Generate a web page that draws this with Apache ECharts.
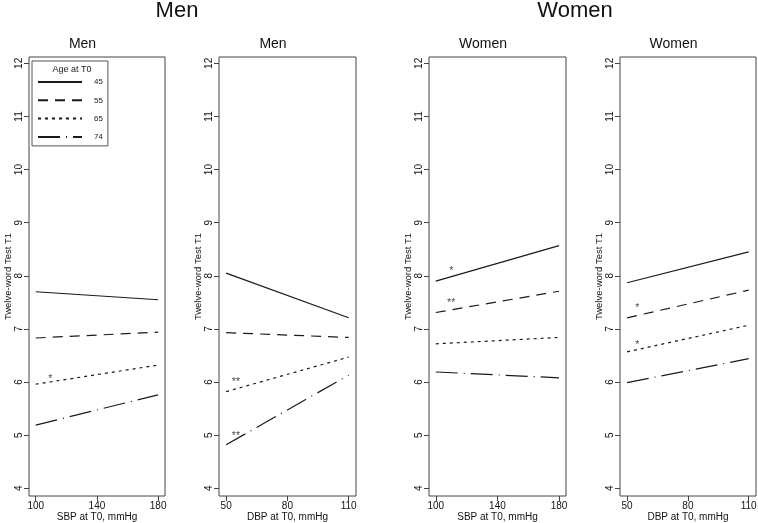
<!DOCTYPE html>
<html>
<head>
<meta charset="utf-8">
<script src="https://cdn.jsdelivr.net/npm/echarts@6.0.0/dist/echarts.min.js"></script>
<style>
  body { margin: 0; background: #fff; }
  #chart { width: 758px; height: 523px; }
</style>
</head>
<body>
<div id="chart"></div>
<script>
// age groups at T0
var ages = ['45', '55', '65', '74'];
var sbpRange = [100, 180];
var dbpRange = [50, 110];
var sbpTicks = [100, 140, 180];
var dbpTicks = [50, 80, 110];
var yTicks = [4, 5, 6, 7, 8, 9, 10, 11, 12];

// predicted score at low / high end of the pressure range, one value per age group
var menSbpStart = [7.70, 6.83, 5.96, 5.19];
var menSbpEnd = [7.55, 6.94, 6.32, 5.76];
var menDbpStart = [8.05, 6.93, 5.82, 4.82];
var menDbpEnd = [7.21, 6.84, 6.47, 6.13];
var womenSbpStart = [7.90, 7.31, 6.72, 6.19];
var womenSbpEnd = [8.57, 7.71, 6.84, 6.08];
var womenDbpStart = [7.87, 7.21, 6.57, 5.99];
var womenDbpEnd = [8.45, 7.73, 7.07, 6.44];

// significance marks [x, y, text]
var menSbpStars = [[109.5, 6.05, '*']];
var menDbpStars = [[54.8, 5.99, '**'], [54.8, 4.99, '**']];
var womenSbpStars = [[110, 8.09, '*'], [110, 7.49, '**']];
var womenDbpStars = [[55, 7.39, '*'], [55, 6.69, '*']];

var dashes = ['solid', [10, 7], [3, 4], [22, 6, 1, 6]];
var ink = '#1a1a1a';
var frame = '#444';
var font = 'Liberation Sans, Arial, Helvetica, sans-serif';

var panels = [
    {title: 'Men', xName: 'SBP at T0, mmHg', range: sbpRange, ticks: sbpTicks, min: 95.6, max: 184.5,
     start: menSbpStart, end: menSbpEnd, stars: menSbpStars, left: 29, width: 136, tx: 82.5},
    {title: 'Men', xName: 'DBP at T0, mmHg', range: dbpRange, ticks: dbpTicks, min: 46.5, max: 113.6,
     start: menDbpStart, end: menDbpEnd, stars: menDbpStars, left: 219, width: 137, tx: 273},
    {title: 'Women', xName: 'SBP at T0, mmHg', range: sbpRange, ticks: sbpTicks, min: 95.6, max: 184.5,
     start: womenSbpStart, end: womenSbpEnd, stars: womenSbpStars, left: 429, width: 137, tx: 483},
    {title: 'Women', xName: 'DBP at T0, mmHg', range: dbpRange, ticks: dbpTicks, min: 46.5, max: 113.6,
     start: womenDbpStart, end: womenDbpEnd, stars: womenDbpStars, left: 620, width: 136, tx: 673.5}
];

var grids = [], xAxes = [], yAxes = [], series = [];
var titles = [
    {text: 'Men', left: 177, top: 0, textAlign: 'center', padding: 0,
     textStyle: {fontFamily: font, fontSize: 22, fontWeight: 'normal', color: '#111'}},
    {text: 'Women', left: 575, top: 0, textAlign: 'center', padding: 0,
     textStyle: {fontFamily: font, fontSize: 22, fontWeight: 'normal', color: '#111'}},
    {text: 'Age at T0', left: 72, top: 65, textAlign: 'center', padding: 0,
     textStyle: {fontFamily: font, fontSize: 9, fontWeight: 'normal', color: '#222'}}
];

panels.forEach(function (p, i) {
    grids.push({left: p.left, top: 57, width: p.width, height: 439, show: true,
        outerBoundsMode: 'none', containLabel: false,
        borderColor: frame, borderWidth: 1, backgroundColor: 'transparent'});
    titles.push({text: p.title, left: p.tx, top: 37, textAlign: 'center', padding: 0,
        textStyle: {fontFamily: font, fontSize: 14, fontWeight: 'normal', color: '#111'}});
    xAxes.push({
        type: 'value', gridIndex: i, min: p.min, max: p.max,
        axisLine: {show: false}, splitLine: {show: false},
        axisTick: {show: true, length: 5, customValues: p.ticks, lineStyle: {color: frame}},
        axisLabel: {customValues: p.ticks, fontSize: 10, margin: 5, color: '#111', fontFamily: font},
        name: p.xName, nameLocation: 'middle', nameGap: 16, nameMoveOverlap: false,
        nameTextStyle: {fontSize: 10, color: '#111', fontFamily: font}
    });
    yAxes.push({
        type: 'value', gridIndex: i, min: 3.855, max: 12.12,
        axisLine: {show: false}, splitLine: {show: false},
        axisTick: {show: true, length: 5, customValues: yTicks, lineStyle: {color: frame}},
        axisLabel: {customValues: yTicks, rotate: 90, fontSize: 10, margin: 5, color: '#111', fontFamily: font},
        name: 'Twelve-word Test T1', nameLocation: 'middle', nameGap: 16, nameMoveOverlap: false,
        nameTextStyle: {fontSize: 9.5, color: '#111', fontFamily: font}
    });
    ages.forEach(function (age, k) {
        series.push({
            name: age, type: 'line', xAxisIndex: i, yAxisIndex: i,
            data: [[p.range[0], p.start[k]], [p.range[1], p.end[k]]],
            symbol: 'none', silent: true, animation: false,
            itemStyle: {color: ink},
            lineStyle: {color: ink, width: 1.2, type: dashes[k]}
        });
    });
    series.push({
        type: 'scatter', xAxisIndex: i, yAxisIndex: i, data: p.stars,
        symbolSize: 1, itemStyle: {color: 'transparent'}, animation: false,
        label: {show: true, position: 'inside', fontSize: 10.5, color: ink, fontFamily: font,
            formatter: function (d) { return d.value[2]; }}
    });
});

var chart = echarts.init(document.getElementById('chart'));
chart.setOption({
    backgroundColor: '#fff',
    animation: false,
    title: titles,
    legend: {
        data: ages, orient: 'vertical', left: 32, top: 61,
        padding: [17, 5, 5, 5], itemWidth: 44, itemHeight: 10, itemGap: 10.3,
        borderColor: '#555', borderWidth: 1, backgroundColor: '#fff',
        selectedMode: false,
        itemStyle: {color: 'transparent', borderColor: 'transparent', borderWidth: 0},
        textStyle: {fontSize: 8, color: '#222', fontFamily: font, padding: [0, 0, 0, 7]}
    },
    grid: grids,
    xAxis: xAxes,
    yAxis: yAxes,
    series: series
});
window.addEventListener('resize', function () {
    chart.resize();
});
</script>
</body>
</html>
